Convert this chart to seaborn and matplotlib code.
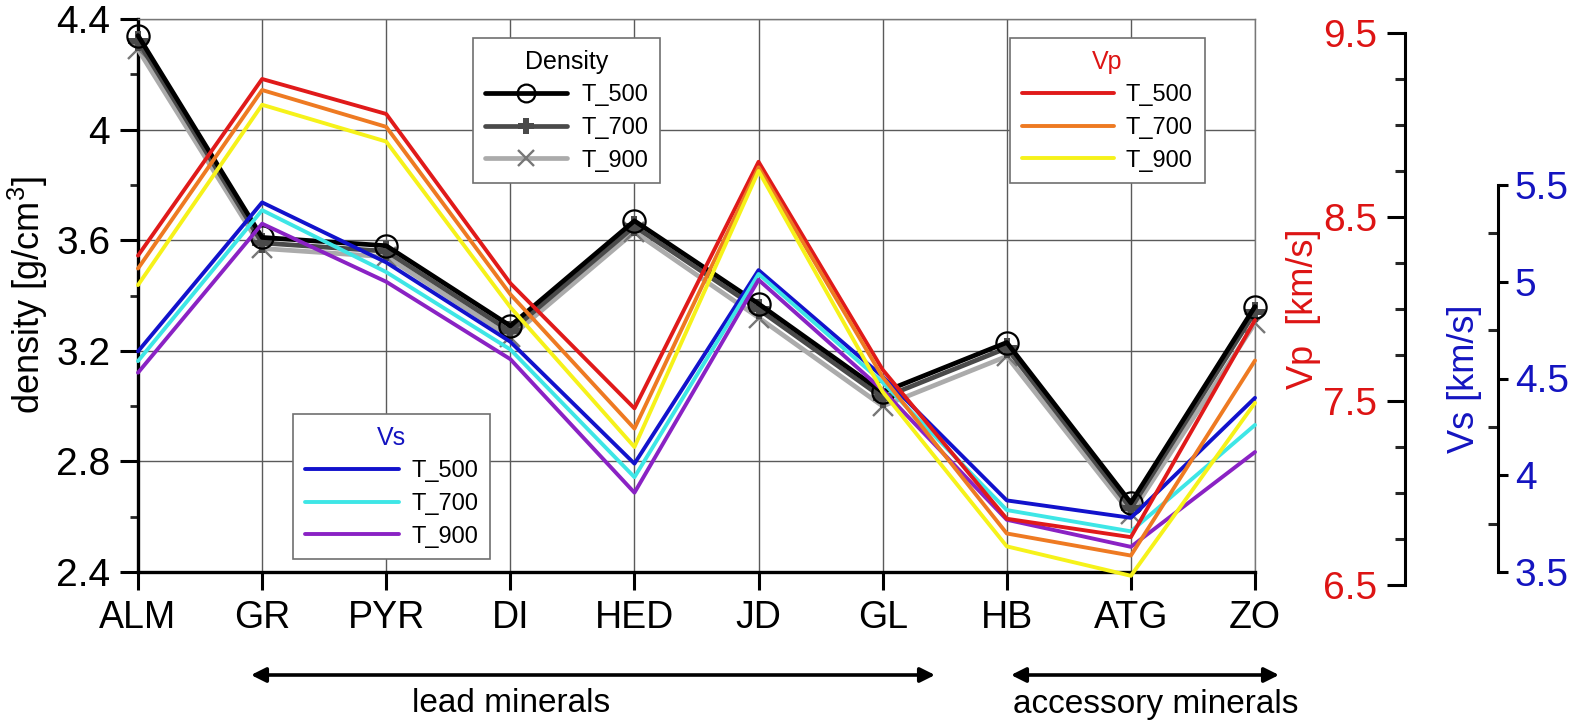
import numpy as np
import pandas as pd
import matplotlib
matplotlib.use("Agg")
import matplotlib.pyplot as plt
from matplotlib.ticker import FixedLocator, MultipleLocator
import seaborn as sns

# --- data ---
minerals = ['ALM', 'GR', 'PYR', 'DI', 'HED', 'JD', 'GL', 'HB', 'ATG', 'ZO']
temps = ['T_500', 'T_700', 'T_900']

dens_500 = [4.34, 3.61, 3.58, 3.29, 3.67, 3.37, 3.05, 3.23, 2.65, 3.36]
dens_700 = [4.32, 3.59, 3.56, 3.27, 3.65, 3.35, 3.03, 3.21, 2.63, 3.34]
dens_900 = [4.29, 3.57, 3.54, 3.25, 3.63, 3.32, 3.00, 3.18, 2.61, 3.30]

vp_500 = [8.29, 9.25, 9.06, 8.14, 7.46, 8.80, 7.67, 6.86, 6.76, 7.94]
vp_700 = [8.22, 9.19, 8.99, 8.08, 7.35, 8.77, 7.63, 6.78, 6.66, 7.72]
vp_900 = [8.13, 9.11, 8.91, 8.01, 7.25, 8.75, 7.55, 6.71, 6.55, 7.49]

vs_500 = [4.64, 5.41, 5.10, 4.69, 4.06, 5.06, 4.51, 3.87, 3.78, 4.40]
vs_700 = [4.59, 5.37, 5.05, 4.65, 3.99, 5.04, 4.48, 3.82, 3.71, 4.26]
vs_900 = [4.53, 5.30, 5.00, 4.60, 3.91, 5.01, 4.44, 3.77, 3.63, 4.12]

dens_ticks = [2.4, 2.8, 3.2, 3.6, 4.0, 4.4]
dens_labels = ['2.4', '2.8', '3.2', '3.6', '4', '4.4']
vp_ticks = [6.5, 7.5, 8.5, 9.5]
vp_labels = ['6.5', '7.5', '8.5', '9.5']
vs_ticks = [3.5, 4.0, 4.5, 5.0, 5.5]
vs_labels = ['3.5', '4', '4.5', '5', '5.5']


def long_table(series):
    rows = []
    for t, vals in zip(temps, series):
        for i, v in enumerate(vals):
            rows.append({'pos': i, 'mineral': minerals[i], 'temp': t, 'value': v})
    return pd.DataFrame(rows)


df_dens = long_table([dens_500, dens_700, dens_900])
df_vp = long_table([vp_500, vp_700, vp_900])
df_vs = long_table([vs_500, vs_700, vs_900])

RED = '#dd1414'
BLUE = '#1414c0'
dens_style = {
    'T_500': dict(color='black', marker='o', markersize=16, markerfacecolor='none',
                  markeredgecolor='black', markeredgewidth=1.6, zorder=5),
    'T_700': dict(color='#4a4a4a', marker='P', markersize=15, markeredgewidth=0, zorder=4),
    'T_900': dict(color='#ababab', marker='x', markersize=15, markeredgecolor='#777777',
                  markeredgewidth=1.7, zorder=3),
}
vp_colors = {'T_500': '#e01a1a', 'T_700': '#ee7a22', 'T_900': '#f6f21a'}
vs_colors = {'T_500': '#1212cc', 'T_700': '#3ee6e6', 'T_900': '#8a22c4'}

sns.set_theme(style='white')
plt.rcParams['font.family'] = ['Liberation Sans', 'DejaVu Sans']
plt.rcParams['mathtext.fontset'] = 'custom'
plt.rcParams['mathtext.rm'] = 'Liberation Sans'
plt.rcParams['text.color'] = 'black'
plt.rcParams['axes.labelcolor'] = 'black'

W, H = 1583, 726
fig = plt.figure(figsize=(W / 100, H / 100), dpi=100)


def box(x0, x1, ytop, ybot):
    return [x0 / W, 1 - ybot / H, (x1 - x0) / W, (ybot - ytop) / H]


ax = fig.add_axes(box(138, 1255, 19, 572))
ax_vs = fig.add_axes(box(138, 1255, 185, 572))
ax_vp = fig.add_axes(box(138, 1255, 33, 585))

legend_kw = dict(loc='upper left', bbox_transform=fig.transFigure, frameon=True,
                 fancybox=False, edgecolor='#707070', framealpha=1, fontsize=17,
                 title_fontsize=18, borderpad=0.5, labelspacing=0.45, borderaxespad=0,
                 labelcolor='black')

# --- density (main axes) ---
for t in temps:
    sub = df_dens[df_dens['temp'] == t]
    sns.lineplot(data=sub, x='pos', y='value', ax=ax, lw=3.4, label=t,
                 clip_on=False, **dens_style[t])
ax.set_xlim(0, len(minerals) - 1)
ax.set_ylim(2.4, 4.4)
ax.xaxis.set_major_locator(FixedLocator(list(range(len(minerals)))))
ax.set_xticklabels(minerals)
ax.yaxis.set_major_locator(FixedLocator(dens_ticks))
ax.set_yticklabels(dens_labels)
ax.yaxis.set_minor_locator(MultipleLocator(0.2))
ax.grid(True, which='major', color='#5a5a5a', lw=1.0)
ax.set_axisbelow(True)
ax.tick_params(axis='both', which='major', direction='out', length=13, width=2.2,
               color='black', bottom=True, left=True, pad=7, labelcolor='black')
ax.tick_params(axis='x', labelsize=27)
ax.tick_params(axis='y', labelsize=28)
ax.tick_params(axis='y', which='minor', direction='out', length=6, width=2, left=True)
for s in ['left', 'bottom']:
    ax.spines[s].set_color('black')
    ax.spines[s].set_linewidth(2.4)
for s in ['top', 'right']:
    ax.spines[s].set_color('#777777')
    ax.spines[s].set_linewidth(1.0)
ax.set_xlabel('')
ax.set_ylabel('density [g/cm$^3$]', fontsize=26, color='black')
ax.yaxis.set_label_coords((50 - 138) / 1117, 0.5)

h, l = ax.get_legend_handles_labels()
leg = ax.legend(h, l, title='Density', bbox_to_anchor=(473 / W, 1 - 38 / H),
                handlelength=3.5, handletextpad=0.6, markerscale=0.8, **legend_kw)
leg.get_title().set_color('black')
leg.get_frame().set_linewidth(1.2)

# --- Vs axes ---
for t in temps:
    sub = df_vs[df_vs['temp'] == t]
    sns.lineplot(data=sub, x='pos', y='value', ax=ax_vs, lw=2.8, color=vs_colors[t],
                 label=t, clip_on=False)
ax_vs.set_xlim(0, len(minerals) - 1)
ax_vs.set_ylim(3.5, 5.5)
ax_vs.patch.set_visible(False)
ax_vs.set_xticks([])
for s in ['left', 'top', 'bottom']:
    ax_vs.spines[s].set_visible(False)
ax_vs.spines['right'].set_position(('axes', (1498 - 138) / 1117))
ax_vs.spines['right'].set_color('black')
ax_vs.spines['right'].set_linewidth(2.2)
ax_vs.yaxis.set_ticks_position('right')
ax_vs.yaxis.set_label_position('right')
ax_vs.yaxis.set_major_locator(FixedLocator(vs_ticks))
ax_vs.set_yticklabels(vs_labels)
ax_vs.yaxis.set_minor_locator(MultipleLocator(0.25))
ax_vs.tick_params(axis='y', which='major', direction='out', length=7, width=2.2,
                  right=True, left=False, labelright=True, labelleft=False,
                  labelsize=28, labelcolor=BLUE, color='black', pad=5)
ax_vs.tick_params(axis='y', which='minor', direction='in', length=7, width=2.2,
                  right=True, left=False)
ax_vs.set_xlabel('')
ax_vs.set_ylabel('Vs [km/s]', fontsize=26, color=BLUE)
ax_vs.yaxis.set_label_coords((1447 - 138) / 1117, 0.5)

h, l = ax_vs.get_legend_handles_labels()
leg = ax_vs.legend(h, l, title='Vs', bbox_to_anchor=(293 / W, 1 - 414 / H),
                   handlelength=4.0, handletextpad=0.5, **legend_kw)
leg.get_title().set_color(BLUE)
leg.get_frame().set_linewidth(1.2)

# --- Vp axes ---
for t in temps:
    sub = df_vp[df_vp['temp'] == t]
    sns.lineplot(data=sub, x='pos', y='value', ax=ax_vp, lw=2.8, color=vp_colors[t],
                 label=t, clip_on=False)
ax_vp.set_xlim(0, len(minerals) - 1)
ax_vp.set_ylim(6.5, 9.5)
ax_vp.patch.set_visible(False)
ax_vp.set_xticks([])
for s in ['right', 'top', 'bottom']:
    ax_vp.spines[s].set_visible(False)
ax_vp.spines['left'].set_position(('axes', (1405 - 138) / 1117))
ax_vp.spines['left'].set_color('black')
ax_vp.spines['left'].set_linewidth(2.2)
ax_vp.yaxis.set_ticks_position('left')
ax_vp.yaxis.set_major_locator(FixedLocator(vp_ticks))
ax_vp.set_yticklabels(vp_labels)
ax_vp.yaxis.set_minor_locator(MultipleLocator(0.25))
ax_vp.tick_params(axis='y', which='major', direction='out', length=13, width=2.2,
                  left=True, labelleft=True, labelsize=28, labelcolor=RED,
                  color='black', pad=7)
ax_vp.tick_params(axis='y', which='minor', direction='out', length=7, width=2.2, left=True)
ax_vp.set_xlabel('')
ax_vp.set_ylabel('Vp  [km/s]', fontsize=26, color=RED)
ax_vp.yaxis.set_label_coords((1321 - 138) / 1117, 0.5)

h, l = ax_vp.get_legend_handles_labels()
leg = ax_vp.legend(h, l, title='Vp', bbox_to_anchor=(1010 / W, 1 - 38 / H),
                   handlelength=3.9, handletextpad=0.5, **legend_kw)
leg.get_title().set_color(RED)
leg.get_frame().set_linewidth(1.2)

# --- group arrows below the axis ---
arrow_kw = dict(arrowstyle='<|-|>', color='black', lw=2.6, mutation_scale=22,
                shrinkA=0, shrinkB=0)
ax.annotate('', xy=(935 / W, 1 - 675 / H), xytext=(251 / W, 1 - 675 / H),
            xycoords='figure fraction', textcoords='figure fraction', arrowprops=arrow_kw)
ax.annotate('', xy=(1279 / W, 1 - 675 / H), xytext=(1011 / W, 1 - 675 / H),
            xycoords='figure fraction', textcoords='figure fraction', arrowprops=arrow_kw)
fig.text(511 / W, 1 - 704 / H, 'lead minerals', ha='center', va='center',
         fontsize=24, color='black')
fig.text(1156 / W, 1 - 704 / H, 'accessory minerals', ha='center', va='center',
         fontsize=24, color='black')

fig.savefig('out.png', dpi=100)
